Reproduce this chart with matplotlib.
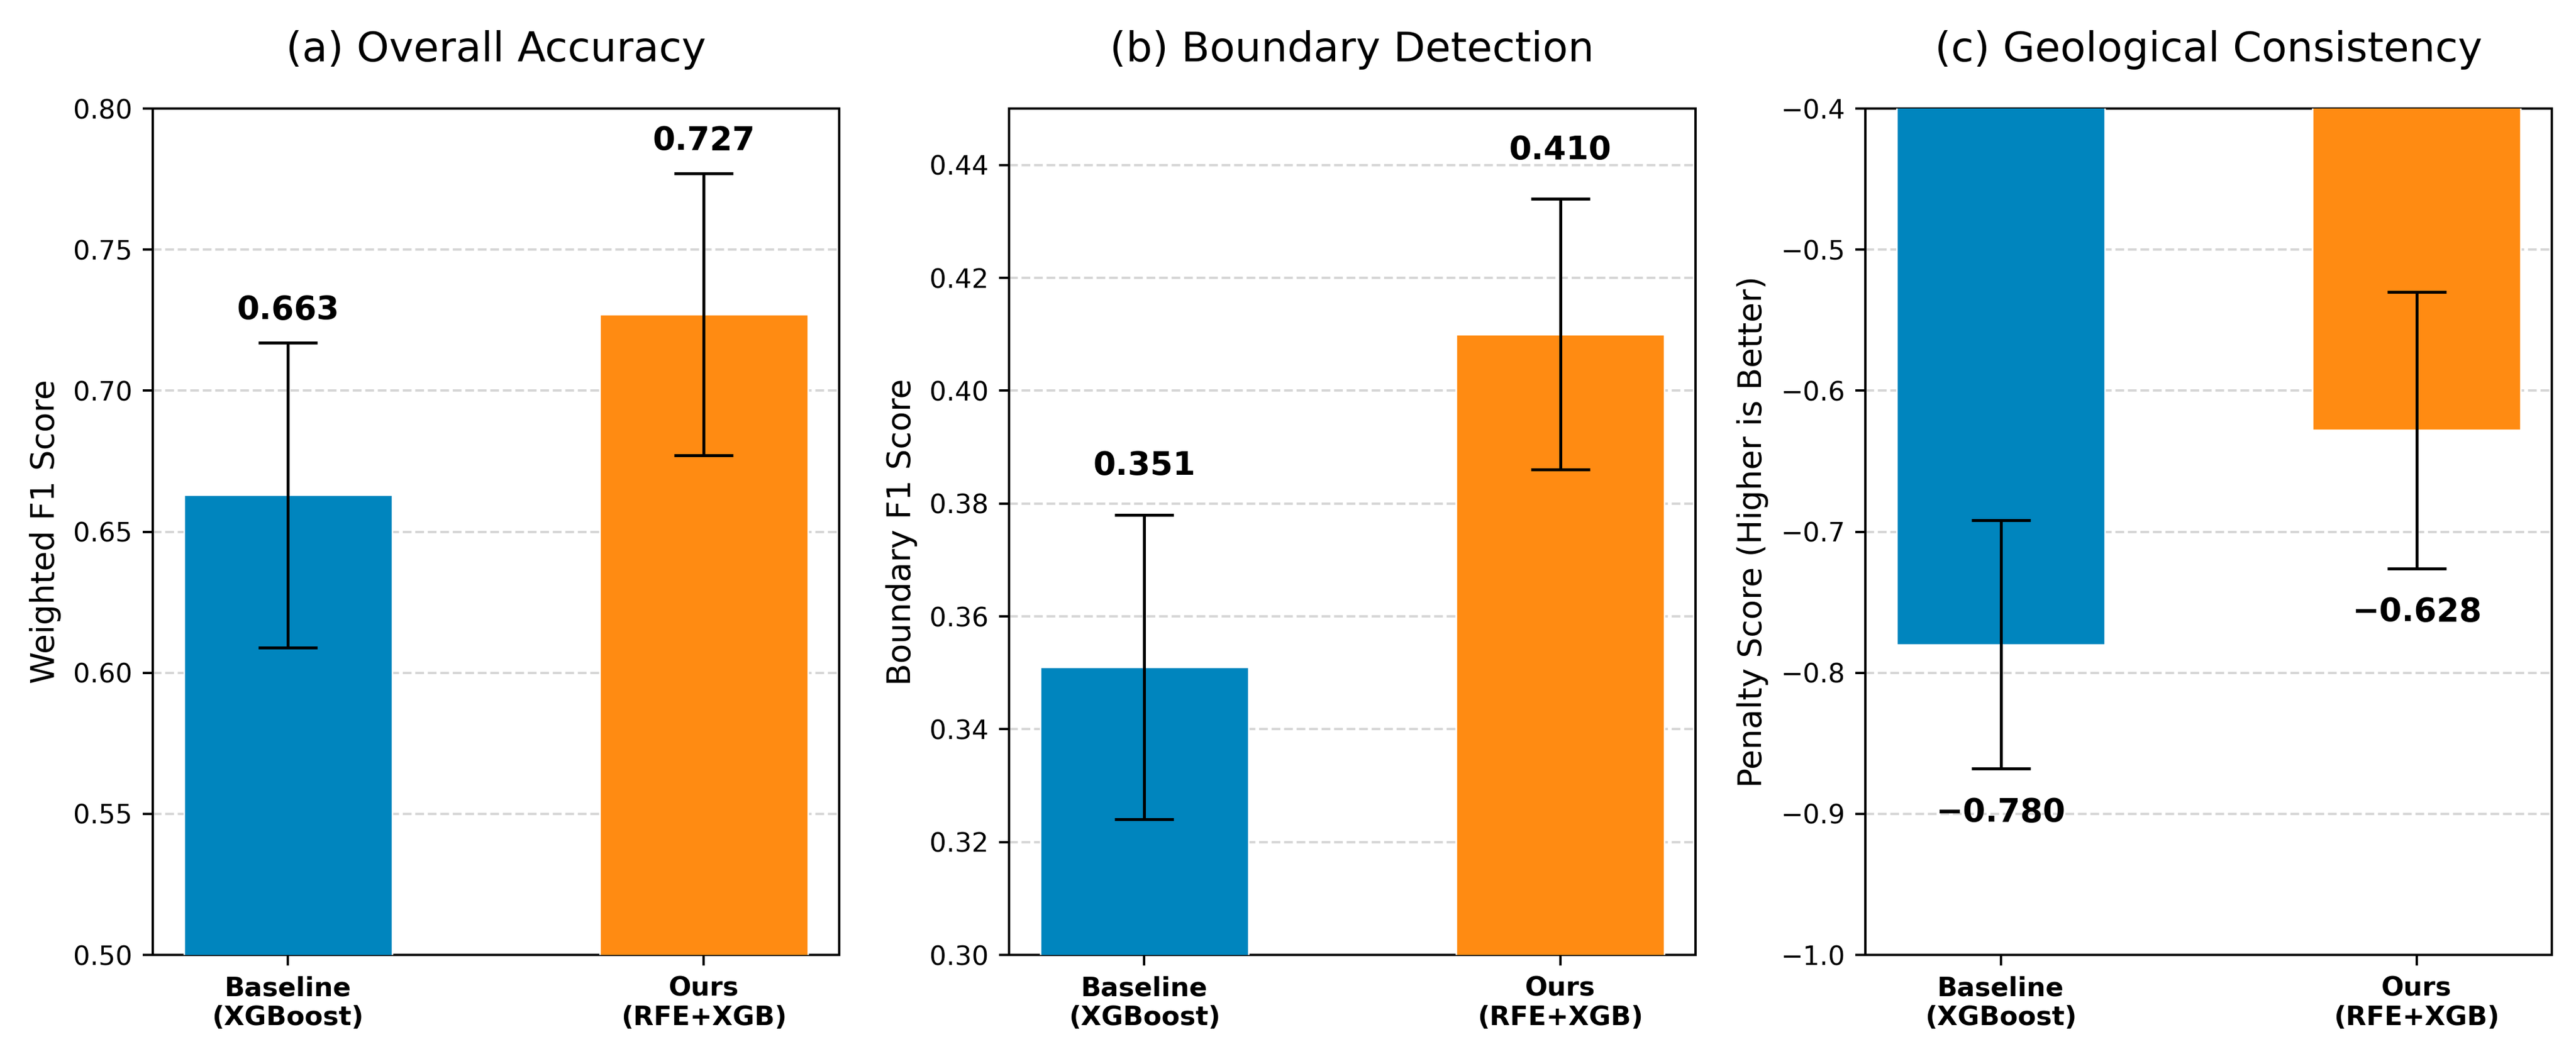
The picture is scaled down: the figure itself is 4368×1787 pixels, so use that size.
import numpy as np
import matplotlib
matplotlib.use('Agg')
import matplotlib.pyplot as plt

# data
methods = ['Baseline\n(XGBoost)', 'Ours\n(RFE+XGB)']
colors = ['#0085BE', '#FF8B12']

titles = ['(a) Overall Accuracy', '(b) Boundary Detection', '(c) Geological Consistency']
ylabels = ['Weighted F1 Score', 'Boundary F1 Score', 'Penalty Score (Higher is Better)']

f1_mean = [0.663, 0.727]
f1_std = [0.054, 0.050]
bf1_mean = [0.351, 0.410]
bf1_std = [0.027, 0.024]
pen_mean = [-0.780, -0.628]
pen_std = [0.088, 0.098]

ylims = [(0.50, 0.80), (0.30, 0.45), (-1.0, -0.4)]

DPI = 360
fig, axes = plt.subplots(1, 3, figsize=(4368 / DPI, 1787 / DPI), dpi=DPI)
fig.subplots_adjust(left=0.0593, right=0.9906, top=0.897, bottom=0.094, wspace=0.248)

data = [(f1_mean, f1_std), (bf1_mean, bf1_std), (pen_mean, pen_std)]
x = np.arange(len(methods))

for i, ax in enumerate(axes):
    means, stds = data[i]
    ax.bar(x, means, width=0.5, yerr=stds, color=colors, capsize=10,
           error_kw={'elinewidth': 1.0, 'capthick': 1.0, 'ecolor': 'black'},
           edgecolor='white', linewidth=0.5, zorder=3)
    ax.set_ylim(*ylims[i])
    ax.set_xticks(x)
    ax.set_xticklabels(methods, fontsize=9, fontweight='bold')
    ax.tick_params(axis='y', labelsize=9)
    ax.set_ylabel(ylabels[i], fontsize=11)
    ax.set_title(titles[i], fontsize=14, pad=16)
    ax.yaxis.grid(True, linestyle='--', color='#cccccc', alpha=0.8, zorder=0)
    ax.set_axisbelow(True)

    for xi, m, s in zip(x, means, stds):
        txt = f'{m:.3f}'.replace('-', '\u2212')
        if m >= 0:
            ax.text(xi, m + s + 0.0058, txt, ha='center', va='bottom',
                    fontsize=11, fontweight='bold')
        else:
            ax.text(xi, m - s - 0.02, txt, ha='center', va='top',
                    fontsize=11, fontweight='bold')

fig.savefig('out.png', dpi=DPI)
